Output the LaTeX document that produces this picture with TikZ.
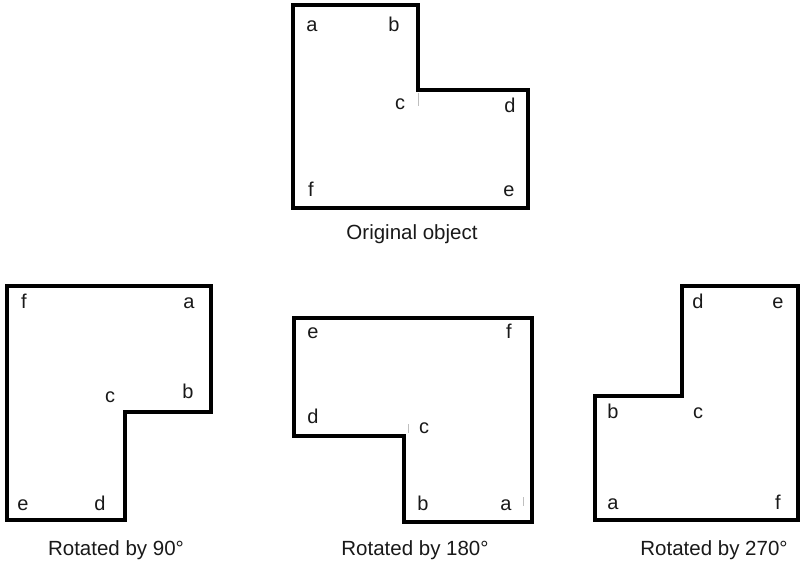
\documentclass[tikz,border=0pt]{standalone}
\usepackage{fontspec}
\setmainfont{Liberation Sans}
\begin{document}
\begin{tikzpicture}[x=1pt,y=-1pt,
  outline/.style={line width=4pt,line join=miter,draw=black},
  lbl/.style={anchor=base,inner sep=0pt,font=\fontsize{20}{20}\selectfont,text=black!90},
  captext/.style={anchor=base,inner sep=0pt,font=\fontsize{20.5}{20.5}\selectfont,text=black!90},
  speck/.style={draw=black!25,line width=0.8pt}]
\useasboundingbox (0,0) rectangle (800,561);
% original
\draw[outline] (293,5) -- (418,5) -- (418,90) -- (528,90) -- (528,208) -- (293,208) -- cycle;
\draw[speck] (418,93) -- (418,106);
\node[lbl] (oa) at (312,32) {a};
\node[lbl] (ob) at (394,32) {b};
\node[lbl] (oc) at (400,110) {c};
\node[lbl] (od) at (510,113) {d};
\node[lbl] (oe) at (509,197) {e};
\node[lbl] (of) at (311,197) {f};
\node[captext] (ocap) at (412,240) {Original object};
% 90
\draw[outline] (7,286) -- (211,286) -- (211,412) -- (125,412) -- (125,520) -- (7,520) -- cycle;
\node[lbl] (na) at (189,308) {a};
\node[lbl] (nb) at (188,398) {b};
\node[lbl] (nc) at (110,402) {c};
\node[lbl] (nd) at (100,510) {d};
\node[lbl] (ne) at (23,510) {e};
\node[lbl] (nf) at (24,308) {f};
\node[captext] (ncap) at (116,555) {Rotated by 90°};
% 180
\draw[outline] (294,318) -- (532,318) -- (532,522) -- (404,522) -- (404,436) -- (294,436) -- cycle;
\draw[speck] (408,424) -- (408,433);
\draw[speck] (523,497) -- (523,506);
\node[lbl] (ta) at (506,510) {a};
\node[lbl] (tb) at (423,510) {b};
\node[lbl] (tc) at (424,433) {c};
\node[lbl] (td) at (313,423) {d};
\node[lbl] (te) at (313,338) {e};
\node[lbl] (tf) at (509,338) {f};
\node[captext] (tcap) at (415,555) {Rotated by 180°};
% 270
\draw[outline] (682,286) -- (798,286) -- (798,520) -- (595,520) -- (595,396) -- (682,396) -- cycle;
\node[lbl] (sa) at (613,509) {a};
\node[lbl] (sb) at (613,418) {b};
\node[lbl] (sc) at (698,418) {c};
\node[lbl] (sd) at (698,308) {d};
\node[lbl] (se) at (778,308) {e};
\node[lbl] (sf) at (778,509) {f};
\node[captext] (scap) at (714,555) {Rotated by 270°};
\end{tikzpicture}
\end{document}
